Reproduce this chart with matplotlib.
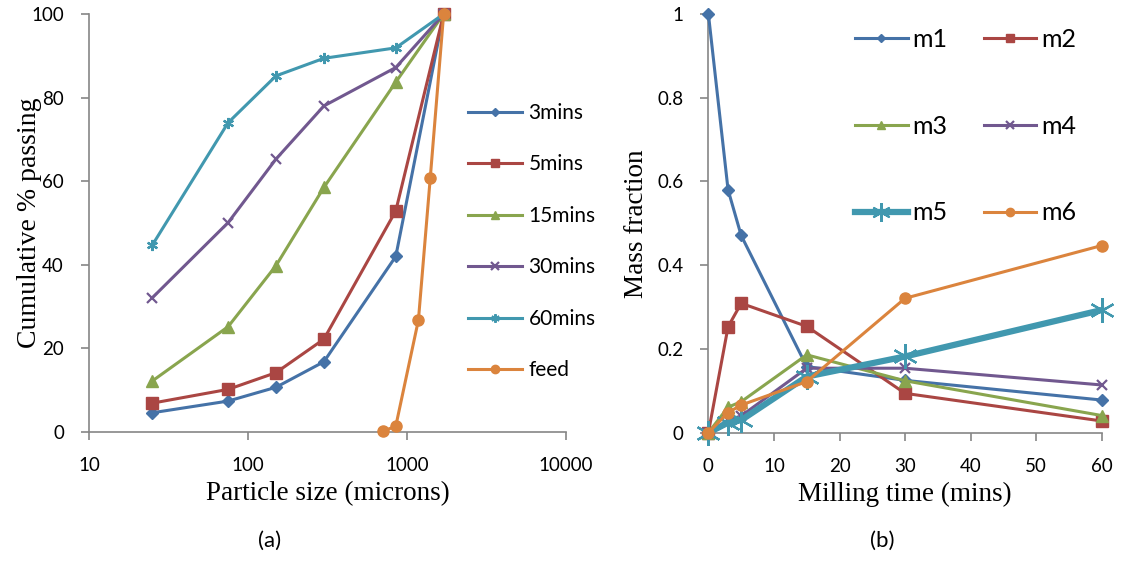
import matplotlib
matplotlib.use('Agg')

import matplotlib.pyplot as plt
from matplotlib.ticker import FixedLocator, FixedFormatter, NullLocator

# DATA
# (a) cumulative % passing vs particle size (microns)
SIZES = [25, 75, 150, 300, 850, 1700]
PASSING = {
    "3mins":  [4.6, 7.4, 10.7, 16.8, 42.0, 100],
    "5mins":  [6.9, 10.2, 14.2, 22.2, 52.9, 100],
    "15mins": [12.2, 25.2, 39.8, 58.5, 83.7, 100],
    "30mins": [32.1, 50.1, 65.3, 78.0, 87.2, 100],
    "60mins": [44.7, 74.0, 85.2, 89.4, 91.9, 100],
}
FEED_SIZES = [710, 850, 1180, 1400, 1700]
FEED_PASSING = [0.2, 1.4, 26.8, 60.7, 100]

# (b) mass fraction vs milling time (mins)
TIMES = [0, 3, 5, 15, 30, 60]
FRACTIONS = {
    "m1": [1.0, 0.580, 0.471, 0.158, 0.125, 0.078],
    "m2": [0.0, 0.253, 0.309, 0.254, 0.094, 0.028],
    "m3": [0.0, 0.061, 0.074, 0.186, 0.124, 0.041],
    "m4": [0.0, 0.030, 0.040, 0.154, 0.154, 0.114],
    "m5": [0.0, 0.024, 0.030, 0.134, 0.182, 0.293],
    "m6": [0.0, 0.048, 0.066, 0.122, 0.321, 0.447],
}

# STYLE
BLUE   = "#4572A7"
RED    = "#AA4643"
GREEN  = "#89A54E"
PURPLE = "#71588F"
CYAN   = "#4198AF"
ORANGE = "#DB843D"
AXIS_GREY = "#868686"

ASTERISK = (6, 2, 0)

STYLE_A = {
    "3mins":  dict(color=BLUE,   marker="D", ms=6),
    "5mins":  dict(color=RED,    marker="s", ms=8),
    "15mins": dict(color=GREEN,  marker="^", ms=8),
    "30mins": dict(color=PURPLE, marker="x", ms=7, mew=1.6),
    "60mins": dict(color=CYAN,   marker=ASTERISK, ms=8, mew=1.6),
}
STYLE_B = {
    "m1": dict(color=BLUE,   marker="D", ms=6, lw=2.2),
    "m2": dict(color=RED,    marker="s", ms=8, lw=2.2),
    "m3": dict(color=GREEN,  marker="^", ms=8, lw=2.2),
    "m4": dict(color=PURPLE, marker="x", ms=7, mew=1.6, lw=2.2),
    "m5": dict(color=CYAN,   marker=ASTERISK, ms=18, mew=1.6, lw=4.5),
    "m6": dict(color=ORANGE, marker="o", ms=8, lw=2.2),
}

SANS = "Lato"
SERIF = "Liberation Serif"
TICK_FS = 13.5
LABEL_FS = 19.5

W, H = 1121, 580


def style_axis(ax):
    for side in ("top", "right"):
        ax.spines[side].set_visible(False)
    for side in ("left", "bottom"):
        ax.spines[side].set_color(AXIS_GREY)
        ax.spines[side].set_linewidth(1.2)
    ax.tick_params(direction="out", length=6, width=1.2, color=AXIS_GREY,
                   labelsize=TICK_FS, pad=12)
    for lbl in ax.get_xticklabels() + ax.get_yticklabels():
        lbl.set_fontfamily(SANS)


fig = plt.figure(figsize=(W / 100, H / 100), dpi=100)

# (a) particle size distribution
ax1 = fig.add_axes([89 / W, 1 - 432 / H, (566 - 89) / W, (432 - 14) / H])
for name, vals in PASSING.items():
    st = STYLE_A[name]
    ax1.plot(SIZES, vals, lw=2.2, label=name, clip_on=False, zorder=3, **st)
ax1.plot(FEED_SIZES, FEED_PASSING, color=ORANGE, marker="o", ms=8, lw=2.2,
         label="feed", clip_on=False, zorder=3)

ax1.set_xscale("log")
ax1.set_xlim(10, 10000)
ax1.set_ylim(0, 100)
ax1.xaxis.set_major_locator(FixedLocator([10, 100, 1000, 10000]))
ax1.xaxis.set_major_formatter(FixedFormatter(["10", "100", "1000", "10000"]))
ax1.xaxis.set_minor_locator(NullLocator())
ax1.set_yticks([0, 20, 40, 60, 80, 100])
style_axis(ax1)
ax1.set_xlabel("Particle size (microns)", fontfamily=SERIF, fontsize=LABEL_FS)
ax1.set_ylabel("Cumulative % passing", fontfamily=SERIF, fontsize=LABEL_FS + 0.5)
ax1.xaxis.set_label_coords(0.5, -0.118)
ax1.yaxis.set_label_coords(-0.098, 0.5)

leg1 = ax1.legend(loc="upper left", bbox_to_anchor=(468 / W, 1 - 103 / H),
                  bbox_transform=fig.transFigure, frameon=False,
                  prop={"family": SANS, "size": 15},
                  handlelength=2.6, handletextpad=0.3, labelspacing=1.51,
                  borderpad=0, borderaxespad=0, markerscale=0.75)

# (b) mass fraction vs milling time
ax2 = fig.add_axes([708.4 / W, 1 - 432.7 / H, (1101.7 - 708.4) / W, (432.7 - 14) / H])
for name, vals in FRACTIONS.items():
    ax2.plot(TIMES, vals, label=name, clip_on=False, zorder=3, **STYLE_B[name])

ax2.set_xlim(0, 60)
ax2.set_ylim(0, 1)
ax2.set_xticks([0, 10, 20, 30, 40, 50, 60])
ax2.set_yticks([0, 0.2, 0.4, 0.6, 0.8, 1.0])
ax2.set_yticklabels(["0", "0.2", "0.4", "0.6", "0.8", "1"])
style_axis(ax2)
ax2.set_xlabel("Milling time (mins)", fontfamily=SERIF, fontsize=LABEL_FS)
ax2.set_ylabel("Mass fraction", fontfamily=SERIF, fontsize=LABEL_FS)
ax2.xaxis.set_label_coords(0.5, -0.118)
ax2.yaxis.set_label_coords(-0.152, 0.5)

# Excel fills the legend row by row: m1 m2 / m3 m4 / m5 m6
handles, labels = ax2.get_legend_handles_labels()
order = [0, 2, 4, 1, 3, 5]
leg2 = ax2.legend([handles[i] for i in order], [labels[i] for i in order],
                  loc="upper left", bbox_to_anchor=(855 / W, 1 - 28 / H),
                  bbox_transform=fig.transFigure, frameon=False, ncol=2,
                  prop={"family": SANS, "size": 18},
                  handlelength=2.1, handletextpad=0.2, labelspacing=2.55,
                  columnspacing=1.45, borderpad=0, borderaxespad=0,
                  markerscale=0.75)

fig.text(270 / W, 1 - 541 / H, "(a)", ha="center", va="center",
         fontfamily=SANS, fontsize=16)
fig.text(882 / W, 1 - 541 / H, "(b)", ha="center", va="center",
         fontfamily=SANS, fontsize=16)

fig.savefig("out.png", dpi=100)
